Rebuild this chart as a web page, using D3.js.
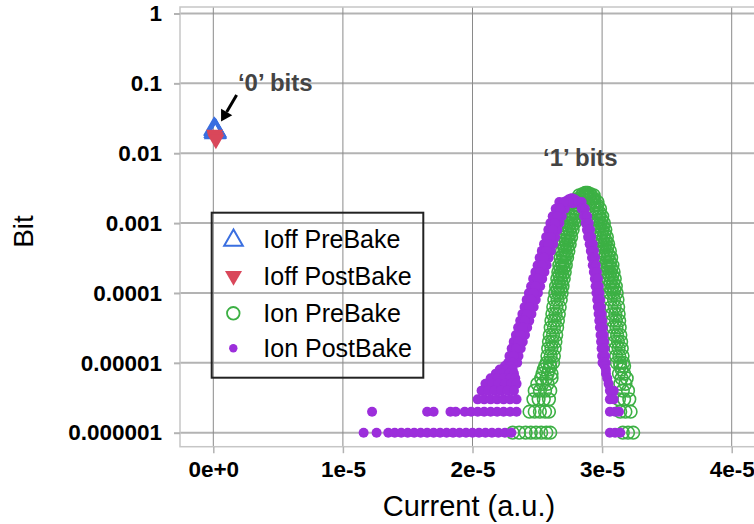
<!DOCTYPE html>
<html><head><meta charset="utf-8">
<script src="https://cdn.jsdelivr.net/npm/d3@7"></script>
<style>body{margin:0;background:#fff}svg{display:block}</style>
</head><body><svg id="c" width="754" height="524"></svg>
<script>
// ---------- data ----------
const yTicks = [1, 0.1, 0.01, 0.001, 0.0001, 0.00001, 0.000001];
const yTickLabels = ["1", "0.1", "0.01", "0.001", "0.0001", "0.00001", "0.000001"];
const xTicks = [0, 1e-5, 2e-5, 3e-5, 4e-5];
const xTickLabels = ["0e+0", "1e-5", "2e-5", "3e-5", "4e-5"];
const seriesNames = ["Ioff PreBake", "Ioff PostBake", "Ion PreBake", "Ion PostBake"];
const xTitle = "Current (a.u.)";
const yTitle = "Bit";

const ioffPreCurrent = [0.6e-7, 1.0e-7, 1.4e-7, 1.8e-7, 2.2e-7, 0.8e-7, 1.6e-7, 2.0e-7, 1.2e-7];
const ioffPreProb = [0.0222, 0.0218, 0.0214, 0.0210, 0.0206, 0.0203, 0.0200, 0.0198, 0.0196];
const ioffPostCurrent = [1.0e-7, 1.5e-7, 2.0e-7];
const ioffPostProb = [0.0185, 0.0170, 0.0158];

const ionPreCurrent = [
 2.870e-5,2.880e-5,2.890e-5, 2.850e-5,2.910e-5, 2.860e-5,2.880e-5,2.900e-5, 2.830e-5,2.930e-5,
 2.823e-5,2.873e-5, 2.790e-5,2.840e-5, 2.769e-5,2.819e-5, 2.750e-5,2.800e-5, 2.736e-5,2.786e-5,
 2.723e-5,2.773e-5, 2.711e-5,2.761e-5, 2.700e-5,2.750e-5, 2.690e-5,2.740e-5, 2.680e-5,2.730e-5,
 2.670e-5,2.720e-5, 2.662e-5,2.712e-5, 2.654e-5,2.704e-5, 2.645e-5,2.695e-5, 2.638e-5,2.688e-5,
 2.631e-5,2.681e-5, 2.623e-5,2.673e-5, 2.616e-5,2.666e-5, 2.609e-5,2.659e-5, 2.603e-5,2.653e-5,
 2.596e-5,2.646e-5, 2.590e-5,2.640e-5, 2.584e-5,2.634e-5, 2.578e-5,2.628e-5, 2.572e-5,2.622e-5,
 2.848e-5,2.815e-5,2.794e-5,2.775e-5,2.761e-5,2.748e-5,2.736e-5,2.725e-5,2.715e-5,2.705e-5,
 2.695e-5,2.687e-5,2.679e-5,2.670e-5,2.663e-5,2.656e-5,2.648e-5,2.641e-5,2.634e-5,2.628e-5,
 2.621e-5,2.615e-5,2.609e-5,2.603e-5,2.597e-5,
 2.819e-5,2.845e-5, 2.792e-5,2.818e-5, 2.772e-5,2.798e-5, 2.755e-5,2.781e-5, 2.742e-5,2.768e-5,
 2.729e-5,2.755e-5, 2.718e-5,2.744e-5, 2.707e-5,2.733e-5, 2.697e-5,2.723e-5, 2.687e-5,2.713e-5,
 2.678e-5,2.704e-5, 2.670e-5,2.696e-5, 2.662e-5,2.688e-5, 2.654e-5,2.680e-5,
 2.885e-5,2.935e-5, 2.915e-5,2.965e-5, 2.934e-5,2.984e-5, 2.951e-5,3.001e-5, 2.964e-5,3.014e-5,
 2.975e-5,3.025e-5, 2.987e-5,3.037e-5, 2.997e-5,3.047e-5, 3.008e-5,3.060e-5, 3.018e-5,3.070e-5,
 3.027e-5,3.080e-5, 3.036e-5,3.089e-5, 3.045e-5,3.098e-5, 3.052e-5,3.106e-5, 3.059e-5,3.113e-5,
 3.065e-5,3.119e-5, 3.071e-5,3.124e-5, 3.076e-5,3.128e-5, 3.081e-5,3.132e-5, 3.086e-5,3.136e-5,
 3.091e-5,3.141e-5, 3.097e-5,3.147e-5, 3.102e-5,3.152e-5, 3.108e-5,3.158e-5, 3.113e-5,3.163e-5,
 2.910e-5,2.940e-5,2.959e-5,2.976e-5,2.989e-5,3.000e-5,3.012e-5,3.022e-5,3.034e-5,3.044e-5,
 3.053e-5,3.062e-5,3.071e-5,3.079e-5,3.086e-5,3.092e-5,3.097e-5,3.102e-5,3.107e-5,3.111e-5,
 3.116e-5,3.122e-5,3.127e-5,3.133e-5,3.138e-5,
 2.912e-5,2.938e-5, 2.937e-5,2.963e-5, 2.955e-5,2.981e-5, 2.970e-5,2.996e-5, 2.982e-5,3.008e-5,
 2.993e-5,3.019e-5, 3.004e-5,3.030e-5, 3.015e-5,3.041e-5, 3.026e-5,3.052e-5, 3.036e-5,3.062e-5,
 3.045e-5,3.071e-5, 3.054e-5,3.080e-5, 3.062e-5,3.088e-5, 3.070e-5,3.096e-5,
 2.56e-5,2.60e-5, 2.55e-5,2.59e-5, 2.54e-5,2.58e-5,2.61e-5, 2.53e-5,2.57e-5,2.61e-5,
 2.50e-5,2.54e-5,2.58e-5, 2.48e-5,2.52e-5,2.56e-5,2.60e-5, 2.47e-5,2.51e-5,2.55e-5,2.59e-5,
 2.44e-5,2.48e-5,2.52e-5,2.56e-5,2.59e-5,
 2.31e-5,2.36e-5,2.41e-5,2.45e-5,2.49e-5,2.53e-5,2.57e-5,2.60e-5,
 3.14e-5,3.17e-5, 3.15e-5, 3.13e-5,3.17e-5, 3.15e-5,3.19e-5, 3.14e-5,3.18e-5, 3.16e-5,3.20e-5,
 3.13e-5,3.17e-5,3.21e-5, 3.14e-5,3.18e-5,3.22e-5, 3.16e-5,3.20e-5,3.24e-5
];
const ionPreProb = [
 2.7e-3,2.72e-3,2.7e-3, 2.6e-3,2.6e-3, 2.35e-3,2.3e-3,2.35e-3, 2.25e-3,2.25e-3,
 2.5e-3,2.5e-3, 2e-3,2e-3, 1.6e-3,1.6e-3, 1.25e-3,1.25e-3, 1e-3,1e-3,
 8e-4,8e-4, 6.3e-4,6.3e-4, 5e-4,5e-4, 4e-4,4e-4, 3.2e-4,3.2e-4,
 2.5e-4,2.5e-4, 2e-4,2e-4, 1.6e-4,1.6e-4, 1.25e-4,1.25e-4, 1e-4,1e-4,
 8e-5,8e-5, 6.3e-5,6.3e-5, 5e-5,5e-5, 4e-5,4e-5, 3.2e-5,3.2e-5,
 2.5e-5,2.5e-5, 2e-5,2e-5, 1.6e-5,1.6e-5, 1.25e-5,1.25e-5, 1e-5,1e-5,
 2.5e-3,2e-3,1.6e-3,1.25e-3,1e-3,8e-4,6.3e-4,5e-4,4e-4,3.2e-4,
 2.5e-4,2e-4,1.6e-4,1.25e-4,1e-4,8e-5,6.3e-5,5e-5,4e-5,3.2e-5,
 2.5e-5,2e-5,1.6e-5,1.25e-5,1e-5,
 2.24e-3,2.24e-3, 1.8e-3,1.8e-3, 1.4e-3,1.4e-3, 1.12e-3,1.12e-3, 9e-4,9e-4,
 7.1e-4,7.1e-4, 5.6e-4,5.6e-4, 4.5e-4,4.5e-4, 3.5e-4,3.5e-4, 2.8e-4,2.8e-4,
 2.25e-4,2.25e-4, 1.8e-4,1.8e-4, 1.4e-4,1.4e-4, 1.12e-4,1.12e-4,
 2.5e-3,2.5e-3, 2e-3,2e-3, 1.6e-3,1.6e-3, 1.25e-3,1.25e-3, 1e-3,1e-3,
 8e-4,8e-4, 6.3e-4,6.3e-4, 5e-4,5e-4, 4e-4,4e-4, 3.2e-4,3.2e-4,
 2.5e-4,2.5e-4, 2e-4,2e-4, 1.6e-4,1.6e-4, 1.25e-4,1.25e-4, 1e-4,1e-4,
 8e-5,8e-5, 6.3e-5,6.3e-5, 5e-5,5e-5, 4e-5,4e-5, 3.2e-5,3.2e-5,
 2.5e-5,2.5e-5, 2e-5,2e-5, 1.6e-5,1.6e-5, 1.25e-5,1.25e-5, 1e-5,1e-5,
 2.5e-3,2e-3,1.6e-3,1.25e-3,1e-3,8e-4,6.3e-4,5e-4,4e-4,3.2e-4,
 2.5e-4,2e-4,1.6e-4,1.25e-4,1e-4,8e-5,6.3e-5,5e-5,4e-5,3.2e-5,
 2.5e-5,2e-5,1.6e-5,1.25e-5,1e-5,
 2.24e-3,2.24e-3, 1.8e-3,1.8e-3, 1.4e-3,1.4e-3, 1.12e-3,1.12e-3, 9e-4,9e-4,
 7.1e-4,7.1e-4, 5.6e-4,5.6e-4, 4.5e-4,4.5e-4, 3.5e-4,3.5e-4, 2.8e-4,2.8e-4,
 2.25e-4,2.25e-4, 1.8e-4,1.8e-4, 1.4e-4,1.4e-4, 1.12e-4,1.12e-4,
 9e-6,9e-6, 8e-6,8e-6, 7e-6,7e-6,7e-6, 6e-6,6e-6,6e-6,
 5e-6,5e-6,5e-6, 4e-6,4e-6,4e-6,4e-6, 3e-6,3e-6,3e-6,3e-6,
 2e-6,2e-6,2e-6,2e-6,2e-6,
 1e-6,1e-6,1e-6,1e-6,1e-6,1e-6,1e-6,1e-6,
 9e-6,9e-6, 8e-6, 7e-6,7e-6, 6e-6,6e-6, 5e-6,5e-6, 4e-6,4e-6,
 3e-6,3e-6,3e-6, 2e-6,2e-6,2e-6, 1e-6,1e-6,1e-6
];

const ionPostCurrent = [
 2.756e-5,2.766e-5,2.776e-5, 2.740e-5,2.790e-5, 2.750e-5,2.770e-5,2.790e-5, 2.720e-5,2.810e-5,
 2.670e-5,2.740e-5, 2.642e-5,2.712e-5, 2.619e-5,2.689e-5, 2.601e-5,2.671e-5, 2.585e-5,2.655e-5,
 2.568e-5,2.638e-5, 2.552e-5,2.622e-5, 2.535e-5,2.605e-5, 2.518e-5,2.588e-5, 2.502e-5,2.572e-5,
 2.485e-5,2.555e-5, 2.468e-5,2.538e-5, 2.452e-5,2.522e-5, 2.435e-5,2.505e-5, 2.418e-5,2.488e-5,
 2.402e-5,2.472e-5, 2.385e-5,2.455e-5, 2.368e-5,2.438e-5, 2.352e-5,2.422e-5, 2.335e-5,2.405e-5,
 2.318e-5,2.388e-5, 2.302e-5,2.372e-5, 2.285e-5,2.355e-5, 2.275e-5,2.345e-5,
 2.705e-5,2.677e-5,2.654e-5,2.636e-5,2.620e-5,2.603e-5,2.587e-5,2.570e-5,2.553e-5,2.537e-5,
 2.520e-5,2.503e-5,2.487e-5,2.470e-5,2.453e-5,2.437e-5,2.420e-5,2.403e-5,2.387e-5,2.370e-5,
 2.353e-5,2.337e-5,2.320e-5,2.310e-5,
 2.818e-5,2.842e-5, 2.843e-5,2.867e-5, 2.861e-5,2.885e-5, 2.873e-5,2.897e-5, 2.883e-5,2.907e-5,
 2.892e-5,2.916e-5, 2.904e-5,2.928e-5, 2.913e-5,2.937e-5, 2.922e-5,2.946e-5, 2.928e-5,2.952e-5,
 2.936e-5,2.960e-5, 2.944e-5,2.968e-5, 2.950e-5,2.974e-5, 2.956e-5,2.980e-5, 2.962e-5,2.986e-5,
 2.967e-5,2.991e-5, 2.973e-5,2.997e-5, 2.978e-5,3.002e-5, 2.983e-5,3.007e-5, 2.988e-5,3.012e-5,
 2.992e-5,3.016e-5, 2.996e-5,3.020e-5, 3.000e-5,3.024e-5, 3.003e-5,3.027e-5,
 2.25e-5,2.29e-5, 2.21e-5,2.26e-5,2.31e-5, 2.18e-5,2.23e-5,2.28e-5,2.32e-5,
 2.14e-5,2.19e-5,2.24e-5,2.29e-5,2.33e-5, 2.10e-5,2.15e-5,2.20e-5,2.25e-5,2.30e-5,2.34e-5,
 2.07e-5,2.12e-5,2.17e-5,2.22e-5,2.27e-5,2.32e-5, 2.04e-5,2.09e-5,2.14e-5,2.19e-5,2.24e-5,2.29e-5,2.34e-5,
 1.225e-5,1.65e-5,1.70e-5,1.83e-5,1.87e-5,1.94e-5,1.99e-5,2.04e-5,2.09e-5,2.14e-5,2.19e-5,2.24e-5,2.29e-5,2.34e-5,
 1.16e-5,1.26e-5,1.35e-5,1.40e-5,1.45e-5,1.50e-5,1.55e-5,1.60e-5,1.65e-5,1.70e-5,1.75e-5,1.80e-5,
 1.85e-5,1.90e-5,1.95e-5,2.00e-5,2.05e-5,2.10e-5,2.15e-5,2.20e-5,2.25e-5,2.30e-5,
 3.02e-5, 3.03e-5, 3.03e-5, 3.04e-5, 3.05e-5, 3.06e-5,3.09e-5, 3.06e-5,3.09e-5,
 3.06e-5,3.10e-5,3.13e-5, 3.06e-5,3.10e-5,3.14e-5
];
const ionPostProb = [
 2.24e-3,2.26e-3,2.24e-3, 2.18e-3,2.18e-3, 1.95e-3,1.92e-3,1.95e-3, 2.05e-3,2.05e-3,
 2e-3,2e-3, 1.6e-3,1.6e-3, 1.25e-3,1.25e-3, 1e-3,1e-3, 8e-4,8e-4,
 6.3e-4,6.3e-4, 5e-4,5e-4, 4e-4,4e-4, 3.2e-4,3.2e-4, 2.5e-4,2.5e-4,
 2e-4,2e-4, 1.6e-4,1.6e-4, 1.25e-4,1.25e-4, 1e-4,1e-4, 8e-5,8e-5,
 6.3e-5,6.3e-5, 5e-5,5e-5, 4e-5,4e-5, 3.2e-5,3.2e-5, 2.5e-5,2.5e-5,
 2e-5,2e-5, 1.6e-5,1.6e-5, 1.25e-5,1.25e-5, 1e-5,1e-5,
 2e-3,1.6e-3,1.25e-3,1e-3,8e-4,6.3e-4,5e-4,4e-4,3.2e-4,2.5e-4,
 2e-4,1.6e-4,1.25e-4,1e-4,8e-5,6.3e-5,5e-5,4e-5,3.2e-5,2.5e-5,
 2e-5,1.6e-5,1.25e-5,1e-5,
 2e-3,2e-3, 1.6e-3,1.6e-3, 1.25e-3,1.25e-3, 1e-3,1e-3, 8e-4,8e-4,
 6.3e-4,6.3e-4, 5e-4,5e-4, 4e-4,4e-4, 3.2e-4,3.2e-4, 2.5e-4,2.5e-4,
 2e-4,2e-4, 1.6e-4,1.6e-4, 1.25e-4,1.25e-4, 1e-4,1e-4, 8e-5,8e-5,
 6.3e-5,6.3e-5, 5e-5,5e-5, 4e-5,4e-5, 3.2e-5,3.2e-5, 2.5e-5,2.5e-5,
 2e-5,2e-5, 1.6e-5,1.6e-5, 1.25e-5,1.25e-5, 1e-5,1e-5,
 9e-6,9e-6, 8e-6,8e-6,8e-6, 7e-6,7e-6,7e-6,7e-6,
 6e-6,6e-6,6e-6,6e-6,6e-6, 5e-6,5e-6,5e-6,5e-6,5e-6,5e-6,
 4e-6,4e-6,4e-6,4e-6,4e-6,4e-6, 3e-6,3e-6,3e-6,3e-6,3e-6,3e-6,3e-6,
 2e-6,2e-6,2e-6,2e-6,2e-6,2e-6,2e-6,2e-6,2e-6,2e-6,2e-6,2e-6,2e-6,2e-6,
 1e-6,1e-6,1e-6,1e-6,1e-6,1e-6,1e-6,1e-6,1e-6,1e-6,1e-6,1e-6,
 1e-6,1e-6,1e-6,1e-6,1e-6,1e-6,1e-6,1e-6,1e-6,1e-6,
 9e-6, 8e-6, 7e-6, 6e-6, 5e-6, 4e-6,4e-6, 3e-6,3e-6,
 2e-6,2e-6,2e-6, 1e-6,1e-6,1e-6
];

// annotations (data coordinates)
const annoZeroText = "\u20180\u2019 bits", annoZeroPos = [1.9e-6, 0.078];
const annoOneText = "\u20181\u2019 bits", annoOnePos = [2.544e-5, 0.00658];
const arrowFrom = [1.8e-6, 0.068], arrowTo = [0.6e-6, 0.0285];

// ---------- drawing ----------
const svg = d3.select("#c");
const plotL = 180, plotR = 770, plotT = 7, plotB = 446.7;
const x = d3.scaleLinear().domain([0, 4e-5]).range([213.3, 731.7]);
const y = d3.scaleLog().domain([1e-6, 1]).range([432.7, 13.5]);
const colors = {pre: "#3a6fe0", post: "#d9475a", ionPre: "#3cb044", ionPost: "#9c2edb"};
const FONT = "'Liberation Sans', Arial, Helvetica, sans-serif";

// grid
svg.append("g").selectAll("line").data(yTicks).join("line")
  .attr("x1", plotL).attr("x2", plotR).attr("y1", d => y(d)).attr("y2", d => y(d))
  .attr("stroke", "#b3b3b3").attr("stroke-width", 2);
svg.append("g").selectAll("line").data(xTicks).join("line")
  .attr("x1", d => x(d)).attr("x2", d => x(d)).attr("y1", plotT).attr("y2", plotB)
  .attr("stroke", "#8a8a8a").attr("stroke-width", 1);
svg.append("rect").attr("x", plotL).attr("y", plotT).attr("width", plotR - plotL).attr("height", plotB - plotT)
  .attr("fill", "none").attr("stroke", "#c6c6c6").attr("stroke-width", 1.5);

// axes
const yAxis = d3.axisLeft(y).tickValues(yTicks).tickFormat((d, i) => yTickLabels[i]).tickSize(6).tickPadding(12);
const gy = svg.append("g").attr("transform", `translate(${plotL},0)`).call(yAxis);
gy.select(".domain").remove();
gy.selectAll(".tick line").attr("stroke", "#b3b3b3").attr("stroke-width", 2);
gy.selectAll(".tick text").attr("font-family", FONT).attr("font-weight", "bold").attr("font-size", 22.5).attr("fill", "#000");

const xAxis = d3.axisBottom(x).tickValues(xTicks).tickFormat((d, i) => xTickLabels[i]).tickSize(6.5).tickPadding(8);
const gx = svg.append("g").attr("transform", `translate(0,${plotB})`).call(xAxis);
gx.select(".domain").remove();
gx.selectAll(".tick line").attr("stroke", "#b3b3b3").attr("stroke-width", 1.5);
gx.selectAll(".tick text").attr("font-family", FONT).attr("font-weight", "bold").attr("font-size", 22.5).attr("fill", "#000");

// titles
svg.append("text").attr("x", 469).attr("y", 516).attr("text-anchor", "middle")
  .attr("font-family", FONT).attr("font-size", 29).attr("fill", "#000").text(xTitle);
svg.append("text").attr("transform", "translate(33,231.5) rotate(-90)").attr("text-anchor", "middle")
  .attr("font-family", FONT).attr("font-size", 28).attr("fill", "#000").text(yTitle);

// series
const zip = (a, b) => a.map((v, i) => [v, b[i]]);
const triUp = d3.symbol().type(d3.symbolTriangle).size(150);
const triDn = d3.symbol().type(d3.symbolTriangle).size(125);

svg.append("g").selectAll("circle").data(zip(ionPreCurrent, ionPreProb)).join("circle")
  .attr("cx", d => x(d[0])).attr("cy", d => y(d[1])).attr("r", 6.3)
  .attr("fill", "none").attr("stroke", colors.ionPre).attr("stroke-width", 1.6);
svg.append("g").selectAll("circle").data(zip(ionPostCurrent, ionPostProb)).join("circle")
  .attr("cx", d => x(d[0])).attr("cy", d => y(d[1])).attr("r", 5)
  .attr("fill", colors.ionPost);
svg.append("g").selectAll("path").data(zip(ioffPreCurrent, ioffPreProb)).join("path")
  .attr("d", triUp).attr("transform", d => `translate(${x(d[0])},${y(d[1])})`)
  .attr("fill", "none").attr("stroke", colors.pre).attr("stroke-width", 2);
svg.append("g").selectAll("path").data(zip(ioffPostCurrent, ioffPostProb)).join("path")
  .attr("d", triDn).attr("transform", d => `translate(${x(d[0])},${y(d[1])}) rotate(180)`)
  .attr("fill", colors.post);

// annotations
const ax1 = x(arrowFrom[0]), ay1 = y(arrowFrom[1]), ax2 = x(arrowTo[0]), ay2 = y(arrowTo[1]);
const ang = Math.atan2(ay2 - ay1, ax2 - ax1), hl = 11, hw = 6.5;
const bx = ax2 - hl * Math.cos(ang), by = ay2 - hl * Math.sin(ang);
svg.append("line").attr("x1", ax1).attr("y1", ay1).attr("x2", bx).attr("y2", by)
  .attr("stroke", "#000").attr("stroke-width", 3);
svg.append("path").attr("d", `M${ax2},${ay2} L${bx + hw * Math.sin(ang)},${by - hw * Math.cos(ang)} L${bx - hw * Math.sin(ang)},${by + hw * Math.cos(ang)} Z`)
  .attr("fill", "#000");
svg.append("text").attr("x", x(annoZeroPos[0])).attr("y", y(annoZeroPos[1]))
  .attr("font-family", FONT).attr("font-weight", "bold").attr("font-size", 24).attr("fill", "#444").text(annoZeroText);
svg.append("text").attr("x", x(annoOnePos[0])).attr("y", y(annoOnePos[1]))
  .attr("font-family", FONT).attr("font-weight", "bold").attr("font-size", 24).attr("fill", "#444").text(annoOneText);

// legend
const lg = svg.append("g");
lg.append("rect").attr("x", 211.7).attr("y", 212.7).attr("width", 211.6).attr("height", 165)
  .attr("fill", "none").attr("stroke", "#222").attr("stroke-width", 2);
const rowY = [239.3, 276, 313.3, 348.3];
lg.append("path").attr("d", triUp).attr("transform", `translate(233.5,${rowY[0]+1})`)
  .attr("fill", "none").attr("stroke", colors.pre).attr("stroke-width", 2);
lg.append("path").attr("d", triDn).attr("transform", `translate(233.5,${rowY[1]}) rotate(180)`)
  .attr("fill", colors.post);
lg.append("circle").attr("cx", 233.3).attr("cy", rowY[2]).attr("r", 6.3)
  .attr("fill", "none").attr("stroke", colors.ionPre).attr("stroke-width", 1.8);
lg.append("circle").attr("cx", 233.3).attr("cy", rowY[3]).attr("r", 4.2).attr("fill", colors.ionPost);
lg.selectAll("text").data(seriesNames).join("text")
  .attr("x", 263.3).attr("y", (d, i) => rowY[i] + 8.5)
  .attr("font-family", FONT).attr("font-size", 25).attr("fill", "#000").text(d => d);
</script></body></html>
